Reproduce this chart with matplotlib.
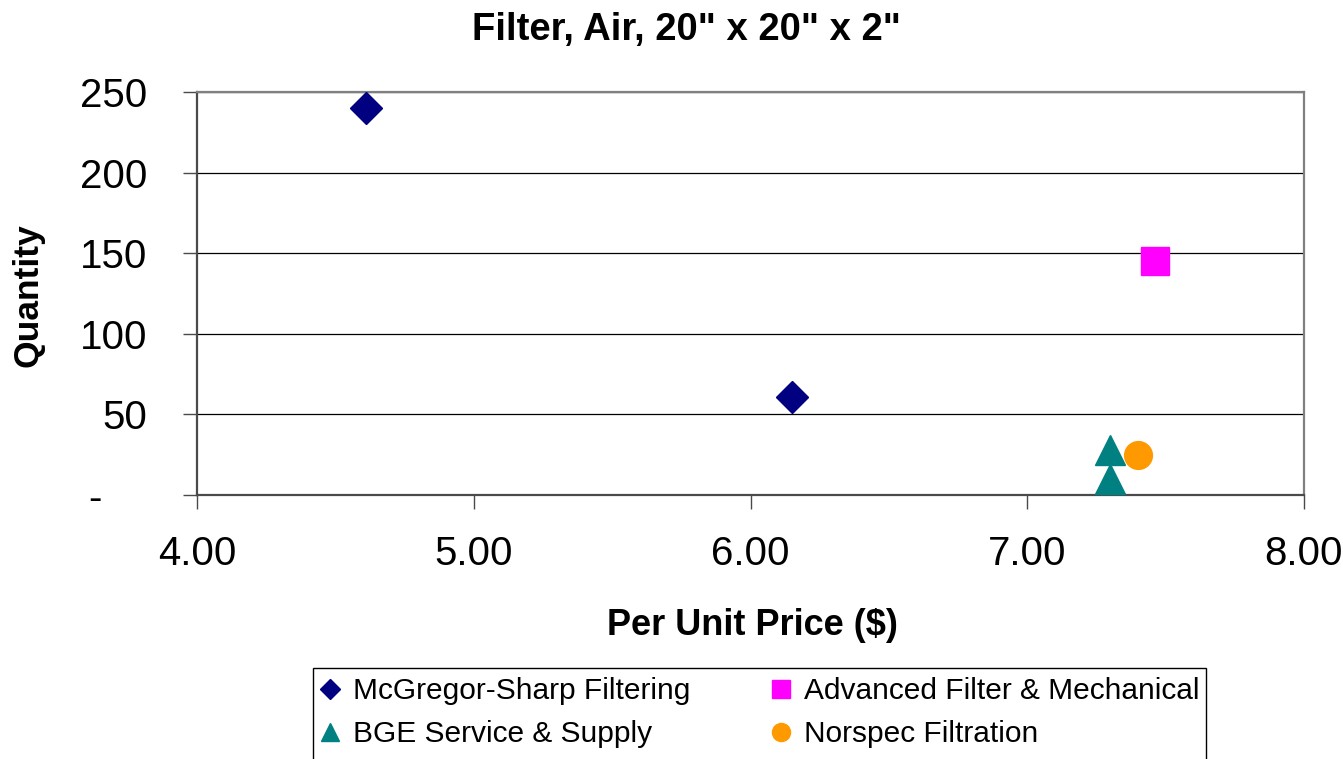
import matplotlib
matplotlib.use("Agg")
import matplotlib.pyplot as plt
from matplotlib.patches import Rectangle
from matplotlib.ticker import FuncFormatter, MultipleLocator

plt.rcParams["font.family"] = ["Liberation Sans", "DejaVu Sans"]

# price ($) vs quantity per supplier
MCGREGOR_PRICE = [4.61, 6.15]
MCGREGOR_QTY = [240, 61]
ADVANCED_PRICE = [7.46]
ADVANCED_QTY = [145]
BGE_PRICE = [7.30, 7.30]
BGE_QTY = [28, 10]
NORSPEC_PRICE = [7.40]
NORSPEC_QTY = [25]

SUPPLIERS = ["McGregor-Sharp Filtering", "Advanced Filter & Mechanical",
             "BGE Service & Supply", "Norspec Filtration"]

W, H = 1343, 759
fig = plt.figure(figsize=(W / 100, H / 100), dpi=100)
ax = fig.add_axes([197 / W, 1 - 495 / H, (1304 - 197) / W, (495 - 92) / H])

ax.plot(MCGREGOR_PRICE, MCGREGOR_QTY, ls="none", marker="D", ms=16,
        color="#000080", label=SUPPLIERS[0], clip_on=False, zorder=3)
ax.plot(ADVANCED_PRICE, ADVANCED_QTY, ls="none", marker="s", ms=19.5,
        color="#FF00FF", label=SUPPLIERS[1], clip_on=False, zorder=3)
ax.plot(BGE_PRICE, BGE_QTY, ls="none", marker="^", ms=22,
        color="#008080", label=SUPPLIERS[2], clip_on=False, zorder=3)
ax.plot(NORSPEC_PRICE, NORSPEC_QTY, ls="none", marker="o", ms=20,
        color="#FF9900", label=SUPPLIERS[3], clip_on=False, zorder=3)

ax.set_xlim(4, 8)
ax.set_ylim(0, 250)
ax.xaxis.set_major_locator(MultipleLocator(1))
ax.yaxis.set_major_locator(MultipleLocator(50))
ax.xaxis.set_major_formatter(FuncFormatter(lambda v, p: f"{v:.2f}"))
# accounting style: zero shown as a dash with trailing padding
ax.yaxis.set_major_formatter(FuncFormatter(lambda v, p: "-    " if v == 0 else f"{v:.0f}"))

ax.yaxis.grid(True, color="black", lw=0.9)
ax.set_axisbelow(True)
for side in ["top", "right"]:
    ax.spines[side].set_color("#808080")
    ax.spines[side].set_linewidth(1.6)
for side in ["left", "bottom"]:
    ax.spines[side].set_color("#4a4a4a")
    ax.spines[side].set_linewidth(1.6)
ax.tick_params(axis="y", direction="out", length=10, width=1, color="#4a4a4a",
               labelsize=29, pad=26)
ax.tick_params(axis="x", direction="out", length=10, width=1, color="#4a4a4a",
               labelsize=29, pad=19)

fig.text(686 / W, 1 - 40 / H, 'Filter, Air, 20" x 20" x 2"', ha="center",
         va="baseline", fontsize=27.5, fontweight="bold")
fig.text(752 / W, 1 - 635 / H, "Per Unit Price ($)", ha="center",
         va="baseline", fontsize=26, fontweight="bold")
fig.text(28 / W, 1 - 295 / H, "Quantity", ha="center", va="center",
         rotation=90, fontsize=25.5, fontweight="bold")

handles, labels = ax.get_legend_handles_labels()
order = [0, 2, 1, 3]
leg = fig.legend([handles[i] for i in order], [labels[i] for i in order],
                 loc="upper left", bbox_to_anchor=(313 / W, 1 - 668 / H),
                 ncol=2, fontsize=21.5, frameon=False,
                 borderpad=0.3, borderaxespad=0, handlelength=0.55,
                 handletextpad=0.49, columnspacing=2.75, labelspacing=0.52)
for h, ms in zip(leg.legend_handles, [9.7, 13.5, 13, 13]):
    h.set_markersize(ms)

# legend box runs past the bottom edge of the figure
fig.patches.append(Rectangle((313 / W, -0.05), (1206 - 313) / W, 0.05 + (759 - 668) / H,
                             transform=fig.transFigure, fill=False,
                             edgecolor="black", lw=1.0))

fig.savefig("out.png", dpi=100, facecolor="white")
